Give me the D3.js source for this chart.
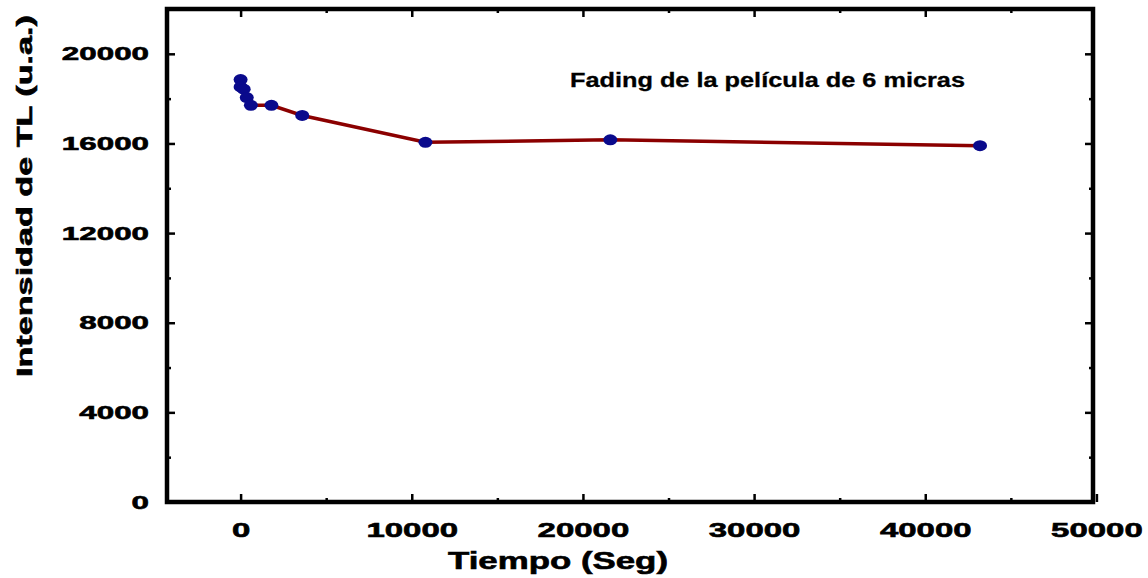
<!DOCTYPE html>
<html>
<head>
<meta charset="utf-8">
<script src="https://d3js.org/d3.v7.min.js"></script>
<style>
  body { margin: 0; background: #fff; }
  text { font-family: "Liberation Sans", Arial, sans-serif; font-weight: bold; fill: #000; }
</style>
</head>
<body>
<div id="chart"></div>
<script>
// tiempo (s) y intensidad TL (u.a.)
var tiempo = [0, 0, 180, 360, 600, 1800, 3600, 10800, 21600, 43200];
var intensidad = [18850, 18520, 18420, 18050, 17700, 17700, 17250, 16050, 16160, 15900];
var xTicks = [0, 10000, 20000, 30000, 40000, 50000];
var yTicks = [0, 4000, 8000, 12000, 16000, 20000];
var xMinor = [5000, 15000, 25000, 35000, 45000];
var yMinor = [2000, 6000, 10000, 14000, 18000];
var titulo = "Fading de la película de 6 micras";
var xLabel = "Tiempo (Seg)";
var yLabel = "Intensidad de TL (u.a.)";

var W = 1148, H = 578;
var box = { left: 167, right: 1093, top: 9, bottom: 502 };

var data = tiempo.map(function(t, i) { return { t: t, v: intensidad[i] }; });

var svg = d3.select("#chart").append("svg")
    .attr("width", W)
    .attr("height", H);

var x = d3.scaleLinear().domain([-4300, 49800]).range([box.left, box.right]);
var y = d3.scaleLinear().domain([0, 22000]).range([box.bottom, box.top]);

// ticks abajo / arriba
var gx = svg.append("g")
    .attr("transform", "translate(0," + box.bottom + ")")
    .call(d3.axisBottom(x).tickValues(xTicks).tickSize(-8).tickPadding(20).tickFormat(d3.format("d")));
gx.selectAll("text")
    .style("font-size", "21px")
    .attr("stroke", "#000")
    .attr("stroke-width", 0.6)
    .attr("transform", "scale(1.57,1)");

svg.append("g")
    .attr("transform", "translate(0," + box.bottom + ")")
    .call(d3.axisBottom(x).tickValues(xMinor).tickSize(-4).tickFormat(""));
svg.append("g")
    .attr("transform", "translate(0," + box.top + ")")
    .call(d3.axisTop(x).tickValues(xTicks.filter(function(d) { return d < 49800; })).tickSize(-8).tickFormat(""));
svg.append("g")
    .attr("transform", "translate(0," + box.top + ")")
    .call(d3.axisTop(x).tickValues(xMinor).tickSize(-4).tickFormat(""));

// ticks izquierda / derecha
var ySx = 1.65;
var gy = svg.append("g")
    .attr("transform", "translate(" + box.left + ",0)")
    .call(d3.axisLeft(y).tickValues(yTicks).tickSize(-8).tickPadding(18).tickFormat(d3.format("d")));
gy.selectAll("text")
    .style("font-size", "19px")
    .attr("stroke", "#000")
    .attr("stroke-width", 0.6)
    .attr("x", -18 / ySx)
    .attr("transform", "scale(" + ySx + ",1)");

svg.append("g")
    .attr("transform", "translate(" + box.left + ",0)")
    .call(d3.axisLeft(y).tickValues(yMinor).tickSize(-4).tickFormat(""));
svg.append("g")
    .attr("transform", "translate(" + box.right + ",0)")
    .call(d3.axisRight(y).tickValues(yTicks).tickSize(-8).tickFormat(""));
svg.append("g")
    .attr("transform", "translate(" + box.right + ",0)")
    .call(d3.axisRight(y).tickValues(yMinor).tickSize(-4).tickFormat(""));

svg.selectAll(".domain").remove();
svg.selectAll(".tick line").attr("stroke", "#000").attr("stroke-width", 2.5);

// marco
svg.append("rect")
    .attr("x", box.left)
    .attr("y", box.top)
    .attr("width", box.right - box.left)
    .attr("height", box.bottom - box.top)
    .attr("fill", "none")
    .attr("stroke", "#000")
    .attr("stroke-width", 4.5);

// linea
var line = d3.line()
    .x(function(d) { return x(d.t); })
    .y(function(d) { return y(d.v); });

svg.append("path")
    .datum(data)
    .attr("fill", "none")
    .attr("stroke", "#8b0000")
    .attr("stroke-width", 3.5)
    .attr("d", line);

svg.selectAll(".pt")
    .data(data)
  .enter().append("ellipse")
    .attr("class", "pt")
    .attr("cx", function(d) { return x(d.t); })
    .attr("cy", function(d) { return y(d.v); })
    .attr("rx", 7)
    .attr("ry", 5.5)
    .attr("fill", "#0a0a8c");

// textos
svg.append("text")
    .attr("x", 570)
    .attr("y", 87)
    .attr("textLength", 395)
    .attr("lengthAdjust", "spacingAndGlyphs")
    .attr("stroke", "#000")
    .attr("stroke-width", 0.3)
    .style("font-size", "19.5px")
    .text(titulo);

svg.append("text")
    .attr("x", 558)
    .attr("y", 569)
    .attr("text-anchor", "middle")
    .attr("textLength", 220)
    .attr("lengthAdjust", "spacingAndGlyphs")
    .attr("stroke", "#000")
    .attr("stroke-width", 0.6)
    .style("font-size", "24px")
    .text(xLabel);

svg.append("text")
    .attr("transform", "translate(32,196) rotate(-90)")
    .attr("text-anchor", "middle")
    .attr("textLength", 362)
    .attr("lengthAdjust", "spacingAndGlyphs")
    .attr("stroke", "#000")
    .attr("stroke-width", 0.6)
    .style("font-size", "22px")
    .text(yLabel);
</script>
</body>
</html>
